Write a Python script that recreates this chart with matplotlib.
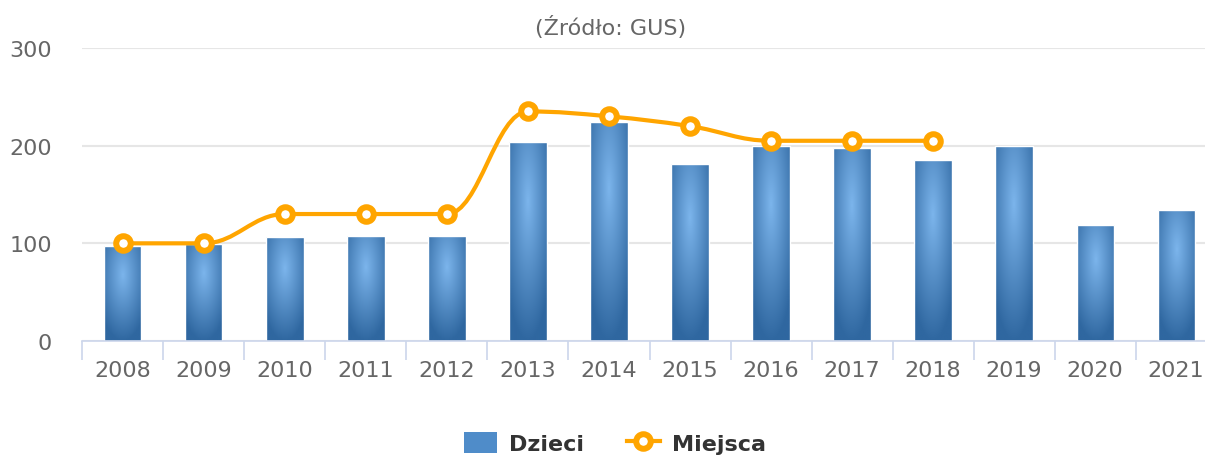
import numpy as np
import matplotlib
matplotlib.use('Agg')
import matplotlib.pyplot as plt
from matplotlib.path import Path
from matplotlib.patches import PathPatch, Rectangle
from matplotlib.lines import Line2D

# Data
years = ['2008', '2009', '2010', '2011', '2012', '2013', '2014',
         '2015', '2016', '2017', '2018', '2019', '2020', '2021']
dzieci = [97, 99, 106, 108, 108, 204, 224, 181, 200, 198, 185, 200, 119, 134]
miejsca = [100, 100, 130, 130, 130, 235, 230, 220, 205, 205, 205]
y_ticks = [0, 100, 200, 300]
title = '(Źródło: GUS)'

plt.rcParams['font.family'] = ['DejaVu Sans']

W, H = 1205, 460
fig = plt.figure(figsize=(W / 100, H / 100), dpi=100)
ax = fig.add_axes([82.3 / W, (H - 342) / H, 1134.4 / W, 293 / H])

x = np.arange(len(years))

# bars with radial gradient fill
c_in = np.array(matplotlib.colors.to_rgb('#7cb5ec'))
c_out = np.array(matplotlib.colors.to_rgb('#2f67a0'))
gy, gx = np.mgrid[0:1:200j, 0:1:100j]
d = np.clip(np.sqrt((gx - 0.5) ** 2 + (gy - 0.3) ** 2) / 0.7, 0, 1)
grad = c_in[None, None, :] * (1 - d[..., None]) + c_out[None, None, :] * d[..., None]

bars = ax.bar(x, dzieci, width=0.46, facecolor='none', edgecolor='white',
              linewidth=1, zorder=3)
for b in bars:
    im = ax.imshow(grad, extent=(b.get_x(), b.get_x() + b.get_width(), 0, b.get_height()),
                   origin='upper', aspect='auto', zorder=2.5, interpolation='bilinear')
    im.set_clip_path(b)


# smooth line like a highcharts spline
def spline_path(xs, ys, smoothing=1.5):
    n = len(xs)
    lc = [(xs[i], ys[i]) for i in range(n)]
    rc = [(xs[i], ys[i]) for i in range(n)]
    for i in range(1, n - 1):
        px, py = xs[i], ys[i]
        lx, ly = xs[i - 1], ys[i - 1]
        nx, ny = xs[i + 1], ys[i + 1]
        den = smoothing + 1
        lcx = (smoothing * px + lx) / den
        lcy = (smoothing * py + ly) / den
        rcx = (smoothing * px + nx) / den
        rcy = (smoothing * py + ny) / den
        corr = (rcy - lcy) * (rcx - px) / (rcx - lcx) + py - rcy
        lcy += corr
        rcy += corr
        if lcy > ly and lcy > py:
            lcy = max(ly, py)
            rcy = 2 * py - lcy
        elif lcy < ly and lcy < py:
            lcy = min(ly, py)
            rcy = 2 * py - lcy
        if rcy > ny and rcy > py:
            rcy = max(ny, py)
            lcy = 2 * py - rcy
        elif rcy < ny and rcy < py:
            rcy = min(ny, py)
            lcy = 2 * py - rcy
        lc[i] = (lcx, lcy)
        rc[i] = (rcx, rcy)
    verts = [(xs[0], ys[0])]
    codes = [Path.MOVETO]
    for i in range(1, n):
        verts += [rc[i - 1], lc[i], (xs[i], ys[i])]
        codes += [Path.CURVE4] * 3
    return Path(verts, codes)


xm = np.arange(len(miejsca))
ax.add_patch(PathPatch(spline_path(list(xm), miejsca), fill=False,
                       edgecolor='#ffa500', linewidth=3, zorder=4,
                       capstyle='round', joinstyle='round'))
ax.plot(xm, miejsca, 'o', markersize=10.5, markerfacecolor='white',
        markeredgecolor='#ffa500', markeredgewidth=4.3, zorder=5)

ax.set_xlim(-0.5, len(years) - 0.5)
ax.set_ylim(0, 300)

# axes styling
for s in ['top', 'right', 'left']:
    ax.spines[s].set_visible(False)
ax.spines['bottom'].set_color('#ccd6eb')
ax.spines['bottom'].set_linewidth(1.2)
ax.spines['bottom'].set_zorder(6)

ax.set_yticks(y_ticks)
ax.set_yticklabels([str(v) for v in y_ticks])
ax.tick_params(axis='y', length=0, pad=22, labelsize=16, labelcolor='#666666')
ax.yaxis.grid(True, color='#e6e6e6', linewidth=1.5, zorder=0)
ax.set_axisbelow(True)

ax.set_xticks(x)
ax.set_xticklabels(years)
ax.set_xticks(np.arange(len(years) + 1) - 0.5, minor=True)
ax.tick_params(axis='x', which='major', length=0, pad=14, labelsize=16,
               labelcolor='#666666')
ax.tick_params(axis='x', which='minor', length=14, width=1.2, color='#ccd6eb')

fig.text(611 / W, 1 - 27 / H, title, ha='center', va='center',
         fontsize=16, color='#666666')

handles = [Rectangle((0, 0), 1, 1, facecolor='#4f8cc9', edgecolor='none'),
           Line2D([], [], color='#ffa500', linewidth=3, marker='o', markersize=10.5,
                  markerfacecolor='white', markeredgecolor='#ffa500',
                  markeredgewidth=4.3)]
fig.legend(handles, ['Dzieci', 'Miejsca'], loc='center',
           bbox_to_anchor=(615 / W, 1 - 444 / H), ncol=2, frameon=False,
           prop={'size': 16, 'weight': 'bold'}, labelcolor='#333333',
           handlelength=1.5, handleheight=1.1, handletextpad=0.55,
           columnspacing=1.9)

fig.savefig('out.png', dpi=100)
